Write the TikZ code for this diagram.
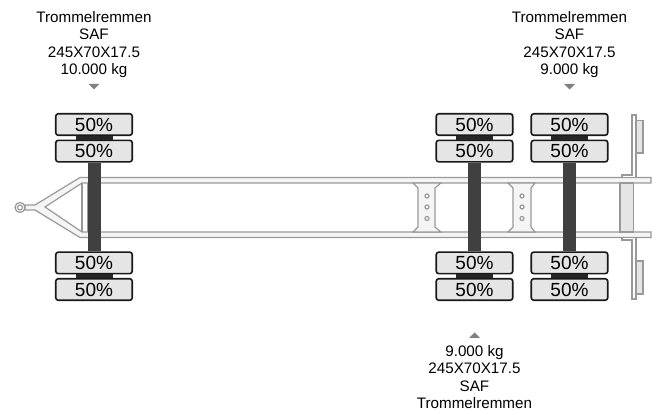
\documentclass[tikz,border=0pt]{standalone}
\usepackage{fontspec}
\setmainfont{Liberation Sans}
\usepackage{tikz}
\tikzset{tyre node/.style={rectangle,rounded corners=2.5pt,fill=black!10,draw=black!90,line width=1.6pt,minimum width=76.5pt,minimum height=21.5pt,inner sep=0pt,outer sep=0.8pt,font=\fontsize{19}{19}\selectfont},
label node/.style={align=center,inner sep=0pt,font=\fontsize{15.2}{17.3}\selectfont},
axle line/.style={line width=13pt,draw=black!75},
hub line/.style={line width=37pt,draw=black!85},
frame line/.style={draw=black!40,line width=1.2pt,fill=white},
rail line/.style={draw=black!40,line width=1.2pt,fill=black!4},
}
\usetikzlibrary{positioning}

\begin{document}
\begin{tikzpicture}[x=1pt,y=-1pt]
			\useasboundingbox (0,0) rectangle (654,411);
			
			%% drawbar and frame
			\draw[rail line] (25,205) -- (35,205) -- (80,177.5) -- (651,177.5) -- (651,183) -- (82,183) -- (45,207) -- (82,232) -- (651,232) -- (651,237.5) -- (80,237.5) -- (35,210) -- (25,210) -- cycle;
			\draw[frame line] (82,183) -- (82,232);
			\draw[frame line] (88,183) -- (88,232);
			\draw[frame line] (20,207.5) circle (5);
			\draw[frame line] (20,207.5) circle (2.5);
			
			%% cross members
			\draw[rail line] (413,183) -- (418,188) -- (418,227) -- (413,232) -- (441,232) -- (435,227) -- (435,188) -- (441,183) -- cycle;
			\draw[rail line] (508,183) -- (513,188) -- (513,227) -- (508,232) -- (535,232) -- (531,227) -- (531,188) -- (535,183) -- cycle;
			\foreach \y in {196,207,218.5} {
				\draw[frame line] (427,\y) circle (2);
				\draw[frame line] (522,\y) circle (2);
			}
			
			%% rear end
			\draw[frame line,fill=black!10] (620,183) rectangle (633.5,232);
			\draw[frame line,fill=black!10] (636,120.5) rectangle (643,153);
			\draw[frame line,fill=black!10] (636,261) rectangle (643,294);
			\draw[frame line] (632,115) -- (636,115) -- (636,177.5) -- (622,177.5) -- (622,175) -- (632,175) -- cycle;
			\draw[frame line] (632,299) -- (636,299) -- (636,237.5) -- (622,237.5) -- (622,240) -- (632,240) -- cycle;
			
			%% tyres
			\node[tyre node] (a1) at (94,124.5) {50\%};
			\node[tyre node] (a2) [below = 3.5pt of a1] {50\%};
			\node[tyre node] (a4) at (94,289.5) {50\%};
			\node[tyre node] (a3) [above = 3.5pt of a4] {50\%};
			
			\node[tyre node] (b1) at (474.5,124.5) {50\%};
			\node[tyre node] (b2) [below = 3.5pt of b1] {50\%};
			\node[tyre node] (b4) at (474.5,289.5) {50\%};
			\node[tyre node] (b3) [above = 3.5pt of b4] {50\%};
			
			\node[tyre node] (c1) at (569.5,124.5) {50\%};
			\node[tyre node] (c2) [below = 3.5pt of c1] {50\%};
			\node[tyre node] (c4) at (569.5,289.5) {50\%};
			\node[tyre node] (c3) [above = 3.5pt of c4] {50\%};
			
			\path[axle line]
			(a2) edge (a3)
			(b2) edge (b3)
			(c2) edge (c3)
			;
			\path[hub line]
			(a1) edge (a2)
			(a3) edge (a4)
			(b1) edge (b2)
			(b3) edge (b4)
			(c1) edge (c2)
			(c3) edge (c4)
			;
			
			%% labels
			\node[label node] (la) at (94,44.5) {Trommelremmen\\SAF\\245X70X17.5\\10.000 kg};
			\node[label node] (lc) at (569.5,44.5) {Trommelremmen\\SAF\\245X70X17.5\\9.000 kg};
			\node[label node] (lb) at (474.5,377) {9.000 kg\\245X70X17.5\\SAF\\Trommelremmen};
			\fill[black!50] (88.5,84) -- (99.5,84) -- (94,89.5) -- cycle;
			\fill[black!50] (564,84) -- (575,84) -- (569.5,89.5) -- cycle;
			\fill[black!50] (469,338) -- (480,338) -- (474.5,332.5) -- cycle;
\end{tikzpicture}
\end{document}
